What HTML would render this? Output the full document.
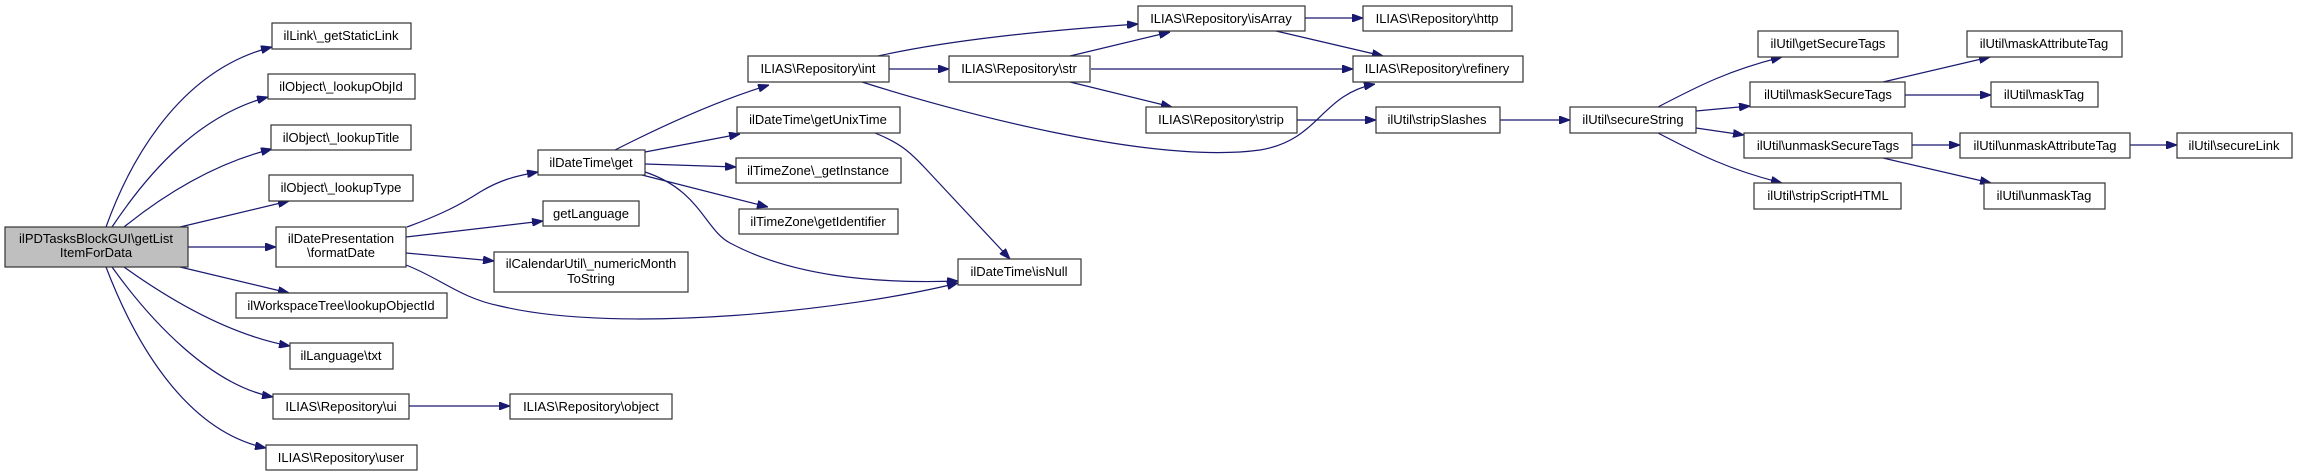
<!DOCTYPE html>
<html><head><meta charset="utf-8"><style>
html,body{margin:0;padding:0;background:#fff;}
svg{display:block;}
text{font-family:"Liberation Sans",Arial,sans-serif;font-size:13px;fill:#000;text-anchor:middle;}
rect{fill:#fff;stroke:#333;stroke-width:1.2;}
path.e{fill:none;stroke:#191970;stroke-width:1.2;}
</style></head><body>
<svg width="2297" height="476" viewBox="0 0 2297 476" xmlns="http://www.w3.org/2000/svg">
<defs><marker id="a" markerUnits="userSpaceOnUse" markerWidth="11" markerHeight="8" refX="11" refY="4" orient="auto"><path d="M0,0 L11,4 L0,8 z" fill="#191970" stroke="#191970"/></marker></defs>
<g marker-end="url(#a)">
<path class="e" d="M106,227 C130,160 180,70 272,47"/>
<path class="e" d="M112,227 C150,170 200,115 268,97"/>
<path class="e" d="M124,227 C170,190 220,162 272,149"/>
<path class="e" d="M180,227 L289,201"/>
<path class="e" d="M188,247 L276,247"/>
<path class="e" d="M180,267 L289,293"/>
<path class="e" d="M124,267 C170,300 230,335 290,346"/>
<path class="e" d="M112,267 C150,320 210,385 273,397"/>
<path class="e" d="M106,267 C130,330 180,430 266,448"/>
<path class="e" d="M407,227 C440,215 460,205 480,192 C500,180 515,176 538,172"/>
<path class="e" d="M406,237 L543,221"/>
<path class="e" d="M406,253 L494,261"/>
<path class="e" d="M406,265 C440,278 460,298 500,306 C620,335 850,310 958,283"/>
<path class="e" d="M409,406 L510,406"/>
<path class="e" d="M615,150 C670,122 720,100 769,85"/>
<path class="e" d="M645,152 L740,134"/>
<path class="e" d="M645,164 L736,167"/>
<path class="e" d="M642,175 L768,207"/>
<path class="e" d="M645,172 C700,190 705,230 730,243 C790,275 870,284 958,281"/>
<path class="e" d="M875,133 C900,143 910,152 925,168 L1010,259"/>
<path class="e" d="M878,56 C950,40 1040,31 1138,24"/>
<path class="e" d="M889,69 L949,69"/>
<path class="e" d="M862,82 C950,110 1150,165 1260,150 C1320,140 1320,95 1375,84"/>
<path class="e" d="M1070,56 L1170,32"/>
<path class="e" d="M1091,69 L1353,69"/>
<path class="e" d="M1070,82 L1172,107"/>
<path class="e" d="M1276,31 L1383,56"/>
<path class="e" d="M1305,18 L1363,18"/>
<path class="e" d="M1297,120 L1376,120"/>
<path class="e" d="M1500,120 L1570,120"/>
<path class="e" d="M1658,107 C1700,85 1730,70 1782,57"/>
<path class="e" d="M1696,111 L1750,106"/>
<path class="e" d="M1696,128 L1744,135"/>
<path class="e" d="M1658,133 C1700,155 1730,170 1782,183"/>
<path class="e" d="M1883,82 L1990,57"/>
<path class="e" d="M1905,95 L1991,95"/>
<path class="e" d="M1912,145 L1960,145"/>
<path class="e" d="M1883,158 L1991,183"/>
<path class="e" d="M2130,145 L2177,145"/>
</g>

<rect x="5" y="227" width="183" height="40" style="fill:#bfbfbf"/>
<text x="96" y="243">ilPDTasksBlockGUI\getList</text>
<text x="96" y="257">ItemForData</text>

<rect x="272" y="23" width="139" height="26"/><text x="341" y="40">ilLink\_getStaticLink</text>
<rect x="268" y="74" width="147" height="25"/><text x="341" y="91">ilObject\_lookupObjId</text>
<rect x="271" y="125" width="140" height="25"/><text x="341" y="142">ilObject\_lookupTitle</text>
<rect x="269" y="175" width="144" height="26"/><text x="341" y="192">ilObject\_lookupType</text>
<rect x="276" y="227" width="130" height="40"/>
<text x="341" y="243">ilDatePresentation</text>
<text x="341" y="257">\formatDate</text>
<rect x="236" y="293" width="211" height="25"/><text x="341" y="310">ilWorkspaceTree\lookupObjectId</text>
<rect x="290" y="343" width="103" height="26"/><text x="341" y="360">ilLanguage\txt</text>
<rect x="273" y="394" width="136" height="25"/><text x="341" y="411">ILIAS\Repository\ui</text>
<rect x="266" y="445" width="151" height="25"/><text x="341" y="462">ILIAS\Repository\user</text>

<rect x="538" y="150" width="107" height="25"/><text x="591" y="167">ilDateTime\get</text>
<rect x="543" y="201" width="96" height="25"/><text x="591" y="218">getLanguage</text>
<rect x="494" y="252" width="194" height="40"/>
<text x="591" y="268">ilCalendarUtil\_numericMonth</text>
<text x="591" y="283">ToString</text>
<rect x="510" y="394" width="162" height="25"/><text x="591" y="411">ILIAS\Repository\object</text>

<rect x="748" y="56" width="141" height="26"/><text x="818" y="73">ILIAS\Repository\int</text>
<rect x="737" y="107" width="163" height="26"/><text x="818" y="124">ilDateTime\getUnixTime</text>
<rect x="736" y="158" width="165" height="25"/><text x="818" y="175">ilTimeZone\_getInstance</text>
<rect x="739" y="209" width="159" height="25"/><text x="818" y="226">ilTimeZone\getIdentifier</text>
<rect x="958" y="259" width="123" height="26"/><text x="1019" y="276">ilDateTime\isNull</text>

<rect x="949" y="56" width="141" height="26"/><text x="1019" y="73">ILIAS\Repository\str</text>
<rect x="1138" y="6" width="167" height="25"/><text x="1221" y="23">ILIAS\Repository\isArray</text>
<rect x="1146" y="107" width="151" height="26"/><text x="1221" y="124">ILIAS\Repository\strip</text>
<rect x="1363" y="6" width="149" height="25"/><text x="1437" y="23">ILIAS\Repository\http</text>
<rect x="1353" y="56" width="170" height="26"/><text x="1437" y="73">ILIAS\Repository\refinery</text>
<rect x="1376" y="107" width="124" height="26"/><text x="1437" y="124">ilUtil\stripSlashes</text>

<rect x="1570" y="107" width="126" height="26"/><text x="1633" y="124">ilUtil\secureString</text>
<rect x="1758" y="31" width="140" height="26"/><text x="1828" y="48">ilUtil\getSecureTags</text>
<rect x="1750" y="82" width="155" height="25"/><text x="1828" y="99">ilUtil\maskSecureTags</text>
<rect x="1744" y="133" width="168" height="25"/><text x="1828" y="150">ilUtil\unmaskSecureTags</text>
<rect x="1754" y="183" width="147" height="26"/><text x="1828" y="200">ilUtil\stripScriptHTML</text>

<rect x="1967" y="31" width="155" height="26"/><text x="2044" y="48">ilUtil\maskAttributeTag</text>
<rect x="1991" y="82" width="107" height="25"/><text x="2044" y="99">ilUtil\maskTag</text>
<rect x="1960" y="133" width="170" height="25"/><text x="2045" y="150">ilUtil\unmaskAttributeTag</text>
<rect x="1984" y="183" width="121" height="26"/><text x="2044" y="200">ilUtil\unmaskTag</text>
<rect x="2177" y="133" width="115" height="25"/><text x="2234" y="150">ilUtil\secureLink</text>
</svg>
</body></html>
